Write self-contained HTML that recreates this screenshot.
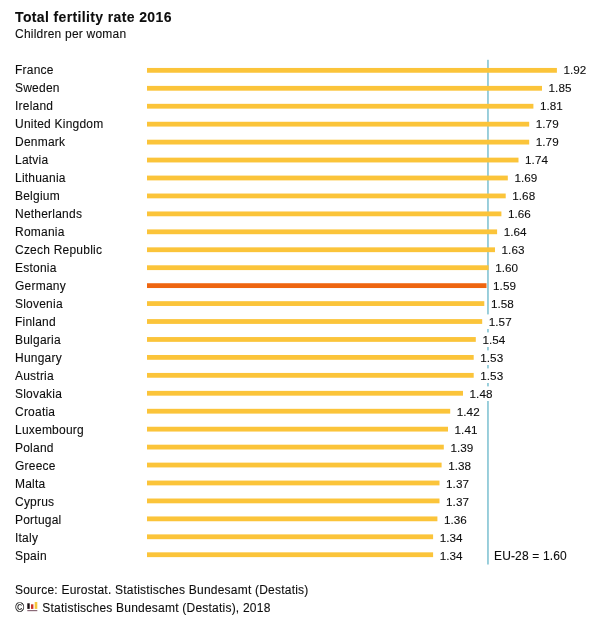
<!DOCTYPE html>
<html><head><meta charset="utf-8"><title>Total fertility rate 2016</title>
<style>
html,body{margin:0;padding:0;background:#fff;}
svg{display:block;font-family:"Liberation Sans",sans-serif;}
.t{font-size:14px;font-weight:bold;fill:#0d0d0d;stroke:#0d0d0d;stroke-width:0.1px;letter-spacing:0.37px;}
.s{font-size:12px;fill:#0d0d0d;stroke:#0d0d0d;stroke-width:0.1px;letter-spacing:0.22px;}
.l{font-size:12px;fill:#0d0d0d;stroke:#0d0d0d;stroke-width:0.1px;letter-spacing:0.22px;}
.v{font-size:11.7px;fill:#0d0d0d;stroke:#0d0d0d;stroke-width:0.1px;letter-spacing:0.03px;}
.e{font-size:12px;fill:#0d0d0d;stroke:#0d0d0d;stroke-width:0.1px;letter-spacing:0.15px;}
</style></head><body>
<svg width="600" height="625" viewBox="0 0 600 625">
<rect width="600" height="625" fill="#fff"/>
<text class="t" x="15" y="22.1">Total fertility rate 2016</text>
<text class="s" x="15" y="38">Children per woman</text>

<text class="l" x="15" y="73.6">France</text>
<text class="l" x="15" y="91.6">Sweden</text>
<text class="l" x="15" y="109.6">Ireland</text>
<text class="l" x="15" y="127.6">United Kingdom</text>
<text class="l" x="15" y="145.6">Denmark</text>
<text class="l" x="15" y="163.6">Latvia</text>
<text class="l" x="15" y="181.6">Lithuania</text>
<text class="l" x="15" y="199.6">Belgium</text>
<text class="l" x="15" y="217.6">Netherlands</text>
<text class="l" x="15" y="235.6">Romania</text>
<text class="l" x="15" y="253.6">Czech Republic</text>
<text class="l" x="15" y="271.6">Estonia</text>
<text class="l" x="15" y="289.6">Germany</text>
<text class="l" x="15" y="307.6">Slovenia</text>
<text class="l" x="15" y="325.6">Finland</text>
<text class="l" x="15" y="343.6">Bulgaria</text>
<text class="l" x="15" y="361.6">Hungary</text>
<text class="l" x="15" y="379.6">Austria</text>
<text class="l" x="15" y="397.6">Slovakia</text>
<text class="l" x="15" y="415.6">Croatia</text>
<text class="l" x="15" y="433.6">Luxembourg</text>
<text class="l" x="15" y="451.6">Poland</text>
<text class="l" x="15" y="469.6">Greece</text>
<text class="l" x="15" y="487.6">Malta</text>
<text class="l" x="15" y="505.6">Cyprus</text>
<text class="l" x="15" y="523.6">Portugal</text>
<text class="l" x="15" y="541.6">Italy</text>
<text class="l" x="15" y="559.6">Spain</text>
<rect x="487" y="59.8" width="1.9" height="504.7" fill="#96cdda"/>
<rect x="147" y="67.95" width="409.9" height="4.8" fill="#fbc43a"/>
<rect x="147" y="85.89" width="395.0" height="4.8" fill="#fbc43a"/>
<rect x="147" y="103.83" width="386.4" height="4.8" fill="#fbc43a"/>
<rect x="147" y="121.77" width="382.2" height="4.8" fill="#fbc43a"/>
<rect x="147" y="139.71" width="382.2" height="4.8" fill="#fbc43a"/>
<rect x="147" y="157.65" width="371.5" height="4.8" fill="#fbc43a"/>
<rect x="147" y="175.59" width="360.8" height="4.8" fill="#fbc43a"/>
<rect x="147" y="193.53" width="358.7" height="4.8" fill="#fbc43a"/>
<rect x="147" y="211.47" width="354.4" height="4.8" fill="#fbc43a"/>
<rect x="147" y="229.41" width="350.1" height="4.8" fill="#fbc43a"/>
<rect x="147" y="247.35" width="348.0" height="4.8" fill="#fbc43a"/>
<rect x="147" y="265.29" width="341.6" height="4.8" fill="#fbc43a"/>
<rect x="147" y="283.23" width="339.5" height="4.8" fill="#ee6510"/>
<rect x="147" y="301.17" width="337.3" height="4.8" fill="#fbc43a"/>
<rect x="147" y="319.11" width="335.2" height="4.8" fill="#fbc43a"/>
<rect x="147" y="337.05" width="328.8" height="4.8" fill="#fbc43a"/>
<rect x="147" y="354.99" width="326.7" height="4.8" fill="#fbc43a"/>
<rect x="147" y="372.93" width="326.7" height="4.8" fill="#fbc43a"/>
<rect x="147" y="390.87" width="316.0" height="4.8" fill="#fbc43a"/>
<rect x="147" y="408.81" width="303.2" height="4.8" fill="#fbc43a"/>
<rect x="147" y="426.75" width="301.0" height="4.8" fill="#fbc43a"/>
<rect x="147" y="444.69" width="296.8" height="4.8" fill="#fbc43a"/>
<rect x="147" y="462.63" width="294.6" height="4.8" fill="#fbc43a"/>
<rect x="147" y="480.57" width="292.5" height="4.8" fill="#fbc43a"/>
<rect x="147" y="498.51" width="292.5" height="4.8" fill="#fbc43a"/>
<rect x="147" y="516.45" width="290.4" height="4.8" fill="#fbc43a"/>
<rect x="147" y="534.39" width="286.1" height="4.8" fill="#fbc43a"/>
<rect x="147" y="552.33" width="286.1" height="4.8" fill="#fbc43a"/>
<rect x="561.7" y="62.4" width="31" height="14.6" fill="#fff"/>
<text class="v" x="563.5" y="73.6">1.92</text>
<rect x="546.8" y="80.4" width="31" height="14.6" fill="#fff"/>
<text class="v" x="548.6" y="91.6">1.85</text>
<rect x="538.2" y="98.4" width="31" height="14.6" fill="#fff"/>
<text class="v" x="540.0" y="109.6">1.81</text>
<rect x="534.0" y="116.4" width="31" height="14.6" fill="#fff"/>
<text class="v" x="535.8" y="127.6">1.79</text>
<rect x="534.0" y="134.4" width="31" height="14.6" fill="#fff"/>
<text class="v" x="535.8" y="145.6">1.79</text>
<rect x="523.3" y="152.4" width="31" height="14.6" fill="#fff"/>
<text class="v" x="525.1" y="163.6">1.74</text>
<rect x="512.6" y="170.4" width="31" height="14.6" fill="#fff"/>
<text class="v" x="514.4" y="181.6">1.69</text>
<rect x="510.5" y="188.4" width="31" height="14.6" fill="#fff"/>
<text class="v" x="512.3" y="199.6">1.68</text>
<rect x="506.2" y="206.4" width="31" height="14.6" fill="#fff"/>
<text class="v" x="508.0" y="217.6">1.66</text>
<rect x="501.9" y="224.4" width="31" height="14.6" fill="#fff"/>
<text class="v" x="503.7" y="235.6">1.64</text>
<rect x="499.8" y="242.4" width="31" height="14.6" fill="#fff"/>
<text class="v" x="501.6" y="253.6">1.63</text>
<rect x="493.4" y="260.4" width="31" height="14.6" fill="#fff"/>
<text class="v" x="495.2" y="271.6">1.60</text>
<rect x="491.3" y="278.4" width="31" height="14.6" fill="#fff"/>
<text class="v" x="493.1" y="289.6">1.59</text>
<rect x="489.1" y="296.4" width="31" height="14.6" fill="#fff"/>
<text class="v" x="490.9" y="307.6">1.58</text>
<rect x="487.0" y="314.4" width="31" height="14.6" fill="#fff"/>
<text class="v" x="488.8" y="325.6">1.57</text>
<rect x="480.6" y="332.4" width="31" height="14.6" fill="#fff"/>
<text class="v" x="482.4" y="343.6">1.54</text>
<rect x="478.5" y="350.4" width="31" height="14.6" fill="#fff"/>
<text class="v" x="480.3" y="361.6">1.53</text>
<rect x="478.5" y="368.4" width="31" height="14.6" fill="#fff"/>
<text class="v" x="480.3" y="379.6">1.53</text>
<rect x="467.8" y="386.4" width="31" height="14.6" fill="#fff"/>
<text class="v" x="469.6" y="397.6">1.48</text>
<rect x="455.0" y="404.4" width="31" height="14.6" fill="#fff"/>
<text class="v" x="456.8" y="415.6">1.42</text>
<rect x="452.8" y="422.4" width="31" height="14.6" fill="#fff"/>
<text class="v" x="454.6" y="433.6">1.41</text>
<rect x="448.6" y="440.4" width="31" height="14.6" fill="#fff"/>
<text class="v" x="450.4" y="451.6">1.39</text>
<rect x="446.4" y="458.4" width="31" height="14.6" fill="#fff"/>
<text class="v" x="448.2" y="469.6">1.38</text>
<rect x="444.3" y="476.4" width="31" height="14.6" fill="#fff"/>
<text class="v" x="446.1" y="487.6">1.37</text>
<rect x="444.3" y="494.4" width="31" height="14.6" fill="#fff"/>
<text class="v" x="446.1" y="505.6">1.37</text>
<rect x="442.2" y="512.4" width="31" height="14.6" fill="#fff"/>
<text class="v" x="444.0" y="523.6">1.36</text>
<rect x="437.9" y="530.4" width="31" height="14.6" fill="#fff"/>
<text class="v" x="439.7" y="541.6">1.34</text>
<rect x="437.9" y="548.4" width="31" height="14.6" fill="#fff"/>
<text class="v" x="439.7" y="559.6">1.34</text>
<text class="e" x="494" y="560.1">EU-28 = 1.60</text>
<text class="s" x="15" y="594">Source: Eurostat. Statistisches Bundesamt (Destatis)</text>
<text class="s" x="15.2" y="611.7" style="font-size:12.2px">©</text>
<g><rect x="27.3" y="603.3" width="2.4" height="5.6" fill="#1a1014"/><rect x="31" y="604.3" width="2.4" height="4.6" fill="#c8322a"/><rect x="34.7" y="602" width="2.6" height="6.9" fill="#f7c53c"/><rect x="27.3" y="610" width="10" height="1.2" fill="#8a6a78"/></g>
<text class="s" x="42.3" y="611.5">Statistisches Bundesamt (Destatis), 2018</text>
</svg></body></html>
